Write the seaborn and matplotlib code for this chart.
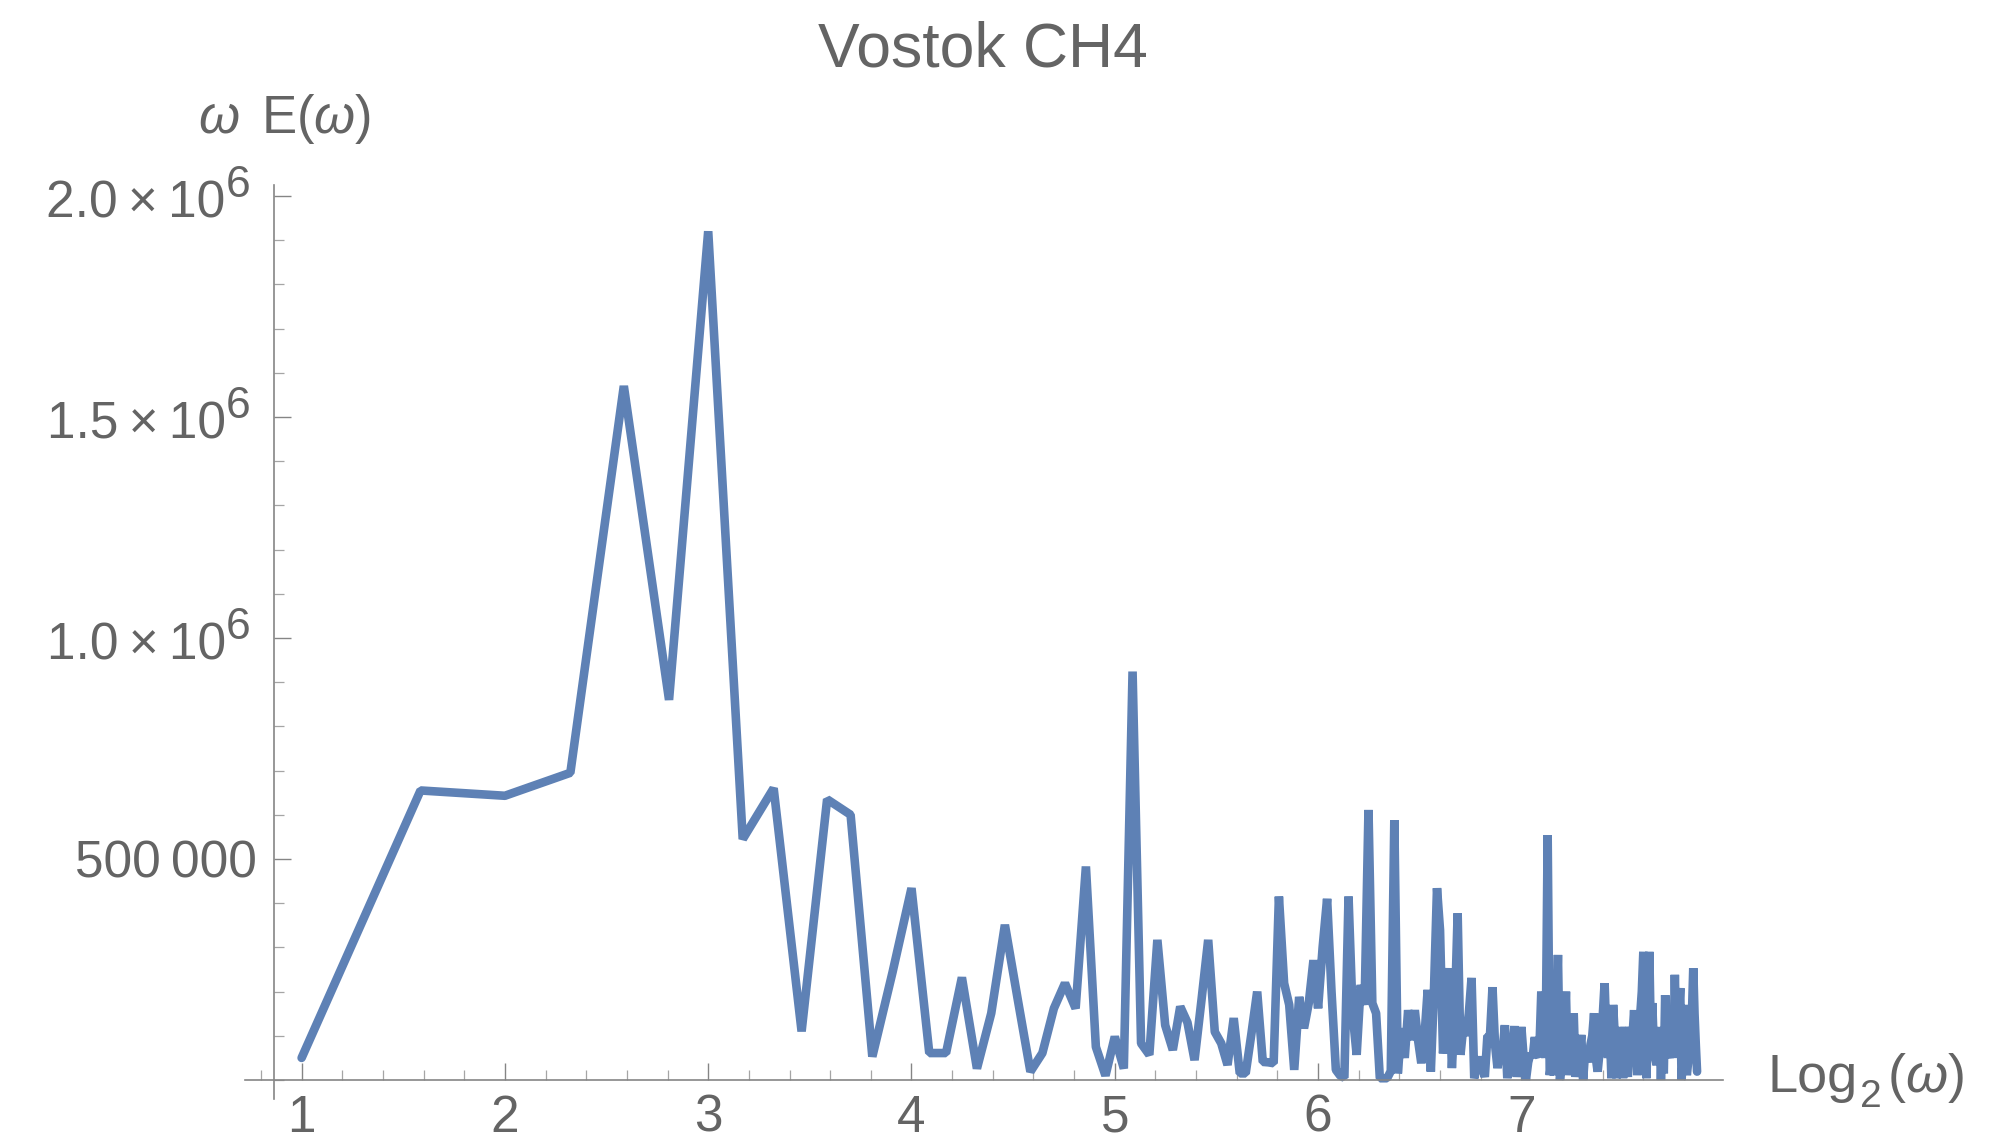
import numpy as np
import pandas as pd
import matplotlib
matplotlib.use("Agg")
import matplotlib.pyplot as plt
from matplotlib.ticker import FixedLocator, MultipleLocator, FuncFormatter
from matplotlib.transforms import offset_copy
import seaborn as sns

# wavenumber omega = 2 .. 233, spectrum omega*E(omega) in units of 1e6
omega = np.arange(2, 234)

energy_2_40 = [0.05, 0.655, 0.643, 0.695, 1.57, 0.86, 1.92, 0.545, 0.66, 0.11,
               0.635, 0.60, 0.053, 0.244, 0.434, 0.061, 0.061, 0.232, 0.026, 0.151,
               0.351, 0.18, 0.019, 0.061, 0.162, 0.219, 0.162, 0.483, 0.075, 0.01,
               0.098, 0.026, 0.924, 0.083, 0.057, 0.317, 0.124, 0.068, 0.166]
energy_41_80 = [0.13, 0.045, 0.18, 0.317, 0.109, 0.083, 0.034, 0.14, 0.015, 0.015,
                0.106, 0.2, 0.041, 0.04, 0.038, 0.415, 0.219, 0.17, 0.023, 0.188,
                0.117, 0.174, 0.271, 0.162, 0.30, 0.41, 0.20, 0.023, 0.01, 0.005,
                0.415, 0.15, 0.057, 0.215, 0.17, 0.611, 0.174, 0.151, 0.004, 0.004]
energy_81_120 = [0.004, 0.02, 0.588, 0.015, 0.117, 0.05, 0.158, 0.09, 0.158, 0.09,
                 0.038, 0.10, 0.204, 0.019, 0.20, 0.434, 0.339, 0.06, 0.15, 0.253,
                 0.027, 0.15, 0.377, 0.057, 0.12, 0.10, 0.15, 0.231, 0.004, 0.03,
                 0.052, 0.03, 0.007, 0.10, 0.10, 0.21, 0.08, 0.027, 0.07, 0.06]
energy_121_160 = [0.124, 0.004, 0.06, 0.05, 0.122, 0.007, 0.06, 0.12, 0.05, 0.0,
                  0.04, 0.06, 0.05, 0.097, 0.06, 0.052, 0.2, 0.1, 0.05, 0.554,
                  0.011, 0.05, 0.011, 0.10, 0.283, 0.0, 0.05, 0.08, 0.2, 0.011,
                  0.06, 0.04, 0.151, 0.007, 0.05, 0.06, 0.102, 0.0, 0.06, 0.06]
energy_161_200 = [0.04, 0.08, 0.10, 0.151, 0.05, 0.019, 0.06, 0.10, 0.15, 0.219,
                  0.10, 0.05, 0.12, 0.004, 0.17, 0.10, 0.004, 0.057, 0.06, 0.12,
                  0.004, 0.12, 0.05, 0.007, 0.12, 0.05, 0.10, 0.158, 0.08, 0.011,
                  0.06, 0.15, 0.20, 0.29, 0.10, 0.004, 0.10, 0.29, 0.10, 0.174]
energy_201_233 = [0.08, 0.05, 0.034, 0.06, 0.12, 0.0, 0.10, 0.015, 0.192, 0.10,
                  0.06, 0.05, 0.08, 0.15, 0.06, 0.238, 0.10, 0.05, 0.15, 0.208,
                  0.0, 0.05, 0.17, 0.05, 0.011, 0.04, 0.10, 0.05, 0.15, 0.253,
                  0.15, 0.08, 0.019]

x_major = [1, 2, 3, 4, 5, 6, 7]
y_major = [0.5e6, 1.0e6, 1.5e6, 2.0e6]
y_sci = [1.0e6, 1.5e6, 2.0e6]

LINE = "#5E81B5"
TEXT = "#646464"
AXIS = "#858585"
Y_SPINE_AT = 0.862

sns.set_style("white")
plt.rcParams["font.family"] = ["Liberation Sans", "DejaVu Sans"]
plt.rcParams["mathtext.fontset"] = "custom"
plt.rcParams["mathtext.rm"] = "Liberation Sans"
plt.rcParams["mathtext.it"] = "Liberation Sans:italic"

energy = np.concatenate([energy_2_40, energy_41_80, energy_81_120,
                         energy_121_160, energy_161_200, energy_201_233]) * 1e6
df = pd.DataFrame({"log2w": np.log2(omega), "wE": energy})

fig = plt.figure(figsize=(20.04, 11.46), dpi=100)
ax = fig.add_axes([0.1221, 0.041, 0.7375, 0.7973])

sns.lineplot(data=df, x="log2w", y="wE", ax=ax, color=LINE, linewidth=6.2,
             sort=False, estimator=None, solid_joinstyle="bevel")

ax.set_xlim(0.72, 7.99)
ax.set_ylim(-0.043e6, 2.024e6)
ax.set_xlabel("")
ax.set_ylabel("")

for side in ["top", "right"]:
    ax.spines[side].set_visible(False)
ax.spines["left"].set_position(("data", Y_SPINE_AT))
ax.spines["bottom"].set_position(("data", 0))
for side in ["left", "bottom"]:
    ax.spines[side].set_color(AXIS)
    ax.spines[side].set_linewidth(1.2)

ax.xaxis.set_major_locator(FixedLocator(x_major))
ax.xaxis.set_minor_locator(MultipleLocator(0.2))
ax.yaxis.set_major_locator(FixedLocator(y_major))
ax.yaxis.set_minor_locator(MultipleLocator(1e5))


def fmt_y(v, pos):
    # only the plain label goes through the axis; the x10^6 ones are drawn below
    if v < 0.9e6:
        return f"{int(v) // 1000}\u2009{int(v) % 1000:03d}"
    return ""


ax.yaxis.set_major_formatter(FuncFormatter(fmt_y))

ax.tick_params(which="both", bottom=True, left=True, top=False, right=False)
ax.tick_params(which="major", direction="in", length=12, width=1.0,
               color=AXIS, labelsize=37, labelcolor=TEXT)
ax.tick_params(which="minor", direction="in", length=7, width=0.9,
               color="#a5a5a5")
ax.tick_params(axis="x", which="major", pad=10)
ax.tick_params(axis="y", which="major", pad=12)

# mantissa x 10 with a large raised exponent, like the original
for v in y_sci:
    t_main = offset_copy(ax.transData, fig=fig, x=-34.5, y=-15.8, units="points")
    ax.text(Y_SPINE_AT, v, f"{v / 1e6:.1f}\u2009\u00d7\u200910", transform=t_main,
            ha="right", va="baseline", fontsize=37, color=TEXT)
    t_sup = offset_copy(ax.transData, fig=fig, x=-16.6, y=-1.0, units="points")
    ax.text(Y_SPINE_AT, v, "6", transform=t_sup,
            ha="right", va="baseline", fontsize=32, color=TEXT)

fig.text(0.4904, 0.9424, "Vostok CH4", ha="center", va="baseline",
         fontsize=45, color=TEXT)
fig.text(0.0988, 0.884, r"$\mathit{\omega}\ \,\mathregular{E(}\mathit{\omega}\mathregular{)}$",
         ha="left", va="baseline", fontsize=38, color=TEXT)

# x axis label: Log, big lowered subscript 2, then (omega)
renderer = fig.canvas.get_renderer()
W = fig.bbox.width
t_log = fig.text(0.8822, 0.0474, "Log", ha="left", va="baseline",
                 fontsize=39, color=TEXT)
x_sub = t_log.get_window_extent(renderer).x1 / W + 2 / W
t_sub = fig.text(x_sub, 0.034, "2", ha="left", va="baseline",
                 fontsize=28, color=TEXT)
x_par = t_sub.get_window_extent(renderer).x1 / W + 5 / W
fig.text(x_par, 0.0474, r"$\mathregular{(}\mathit{\omega}\mathregular{)}$",
         ha="left", va="baseline", fontsize=39, color=TEXT)

fig.savefig("out.png", dpi=100, facecolor="white")
